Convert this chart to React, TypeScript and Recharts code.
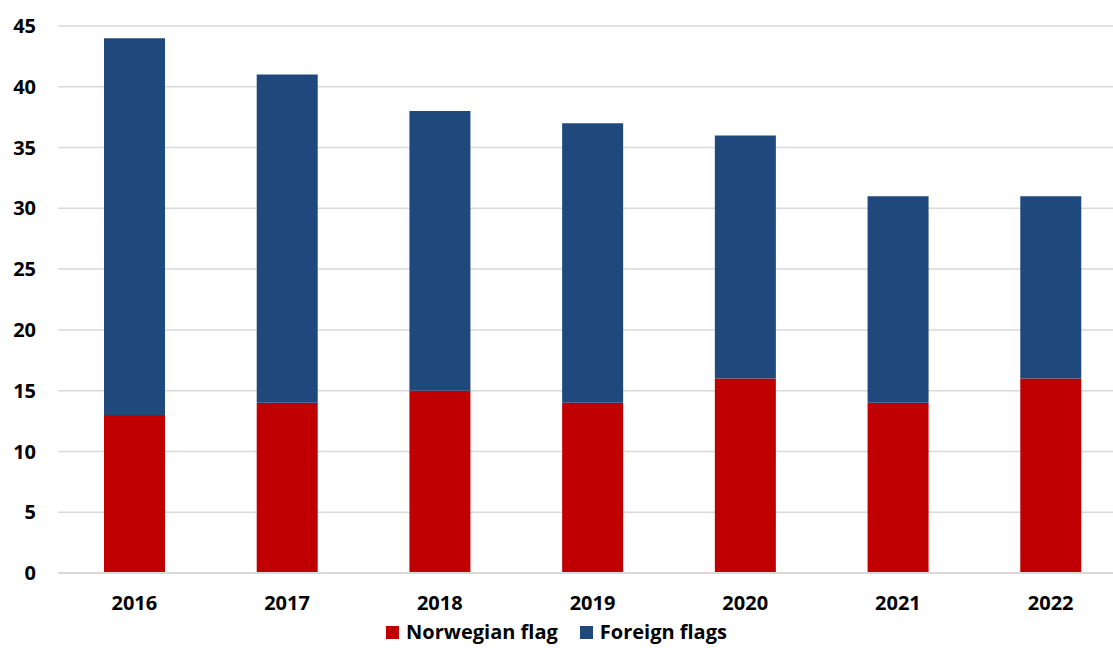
import { Bar, BarChart, CartesianGrid, Legend, XAxis, YAxis } from "recharts"

const years = ["2016", "2017", "2018", "2019", "2020", "2021", "2022"]
const norwegianFlag = [13, 14, 15, 14, 16, 14, 16]
const foreignFlags = [31, 27, 23, 23, 20, 17, 15]
const yTicks = [0, 5, 10, 15, 20, 25, 30, 35, 40, 45]

const data = years.map((year, i) => ({
  year,
  norwegian: norwegianFlag[i],
  foreign: foreignFlags[i],
}))

const series = [
  { key: "norwegian", name: "Norwegian flag", color: "#c00000" },
  { key: "foreign", name: "Foreign flags", color: "#1f497d" },
]

const font = "'Open Sans', sans-serif"

function LegendBox() {
  return (
    <div
      style={{
        height: 30,
        width: 1113,
        display: "flex",
        justifyContent: "center",
        alignItems: "flex-start",
        gap: 22,
        paddingTop: 1,
        boxSizing: "border-box",
        fontFamily: font,
        fontSize: 20,
        lineHeight: "26px",
        fontWeight: 700,
        color: "#000",
      }}
    >
      {series.map((s) => (
        <span key={s.key} style={{ display: "flex", alignItems: "center" }}>
          <span style={{ width: 13, height: 13, background: s.color, marginRight: 7, display: "inline-block" }} />
          {s.name}
        </span>
      ))}
    </div>
  )
}

export default function App() {
  return (
    <div
      style={{
        position: "absolute",
        left: 0,
        top: 0,
        width: 1113,
        height: 648,
        overflow: "hidden",
        background: "#fff",
        fontFamily: font,
      }}
    >
      <BarChart
        width={1127}
        height={648}
        data={data}
        margin={{ top: 26, right: 0, left: 0, bottom: 0 }}
        barSize={61}
      >
        <CartesianGrid vertical={false} stroke="#d9d9d9" strokeWidth={1.5} />
        <XAxis
          dataKey="year"
          tickLine={false}
          axisLine={{ stroke: "#d9d9d9", strokeWidth: 2 }}
          tick={{ fill: "#000", fontSize: 20, fontWeight: 700, fontFamily: font }}
          tickMargin={17}
          height={45}
        />
        <YAxis
          domain={[0, 45]}
          ticks={yTicks}
          tickLine={false}
          axisLine={false}
          width={58}
          tickMargin={16}
          tick={{ fill: "#000", fontSize: 20, fontWeight: 700, fontFamily: font }}
        />
        <Legend
          verticalAlign="bottom"
          wrapperStyle={{ bottom: 0, left: 0, width: 1113, height: 30 }}
          content={() => <LegendBox />}
        />
        {series.map((s) => (
          <Bar key={s.key} dataKey={s.key} name={s.name} stackId="a" fill={s.color} isAnimationActive={false} />
        ))}
      </BarChart>
    </div>
  )
}
